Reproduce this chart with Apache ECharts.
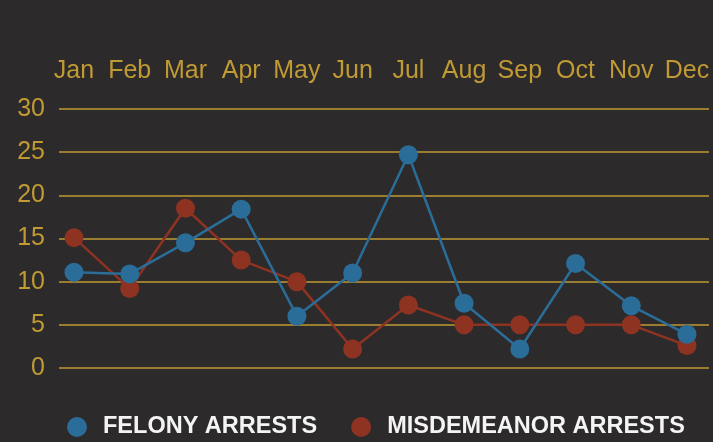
<!DOCTYPE html>
<html>
<head>
<meta charset="utf-8">
<script src="https://cdn.jsdelivr.net/npm/echarts@6/dist/echarts.min.js"></script>
<style>
html,body{margin:0;padding:0;background:#2d2a2b;}
#chart{width:713px;height:442px;}
</style>
</head>
<body>
<div id="chart"></div>
<script>
const months = ['Jan','Feb','Mar','Apr','May','Jun','Jul','Aug','Sep','Oct','Nov','Dec'];
const felony = [11.1, 10.9, 14.5, 18.4, 6, 11, 24.7, 7.5, 2.2, 12.1, 7.2, 3.9];
const misdemeanor = [15.1, 9.2, 18.5, 12.5, 10, 2.2, 7.3, 5, 5, 5, 5, 2.6];
const seriesNames = ['FELONY ARRESTS', 'MISDEMEANOR ARRESTS'];

const gold = '#c09a33';
const font = 'Liberation Sans';
const chart = echarts.init(document.getElementById('chart'));
chart.setOption({
  backgroundColor: '#2d2a2b',
  animation: false,
  grid: [
    {left: 59, right: 4, top: 109, bottom: 74},
    {left: 74, right: 26, top: 109, bottom: 74}
  ],
  xAxis: [
    {gridIndex: 0, type: 'category', data: months, show: false},
    {gridIndex: 1, type: 'category', data: months, position: 'top', boundaryGap: false,
     axisLine: {show: false}, axisTick: {show: false}, splitLine: {show: false},
     axisLabel: {color: gold, fontSize: 25, fontFamily: font, margin: 25, interval: 0}}
  ],
  yAxis: [
    {gridIndex: 0, type: 'value', min: 0, max: 30, interval: 5,
     axisLine: {show: false}, axisTick: {show: false},
     splitLine: {lineStyle: {color: gold, width: 1.5}},
     axisLabel: {color: gold, fontSize: 25, fontFamily: font, margin: 14}},
    {gridIndex: 1, type: 'value', min: 0, max: 30, interval: 5, show: false}
  ],
  legend: {
    left: 67, top: 415, padding: 0, itemWidth: 20, itemHeight: 20, itemGap: 34, icon: 'circle',
    textStyle: {color: '#f4f4f4', fontSize: 23.5, fontWeight: 'bold', fontFamily: font, padding: [0, 0, 0, 11]},
    data: seriesNames
  },
  series: [
    {name: seriesNames[1], type: 'line', xAxisIndex: 1, yAxisIndex: 1, data: misdemeanor,
     color: '#8e3322', symbol: 'circle', symbolSize: 19,
     lineStyle: {width: 2.5, color: '#8e3322'}, itemStyle: {color: '#8e3322'}},
    {name: seriesNames[0], type: 'line', xAxisIndex: 1, yAxisIndex: 1, data: felony,
     color: '#2a6d99', symbol: 'circle', symbolSize: 19,
     lineStyle: {width: 2.5, color: '#2a6d99'}, itemStyle: {color: '#2a6d99'}}
  ]
});
</script>
</body>
</html>
